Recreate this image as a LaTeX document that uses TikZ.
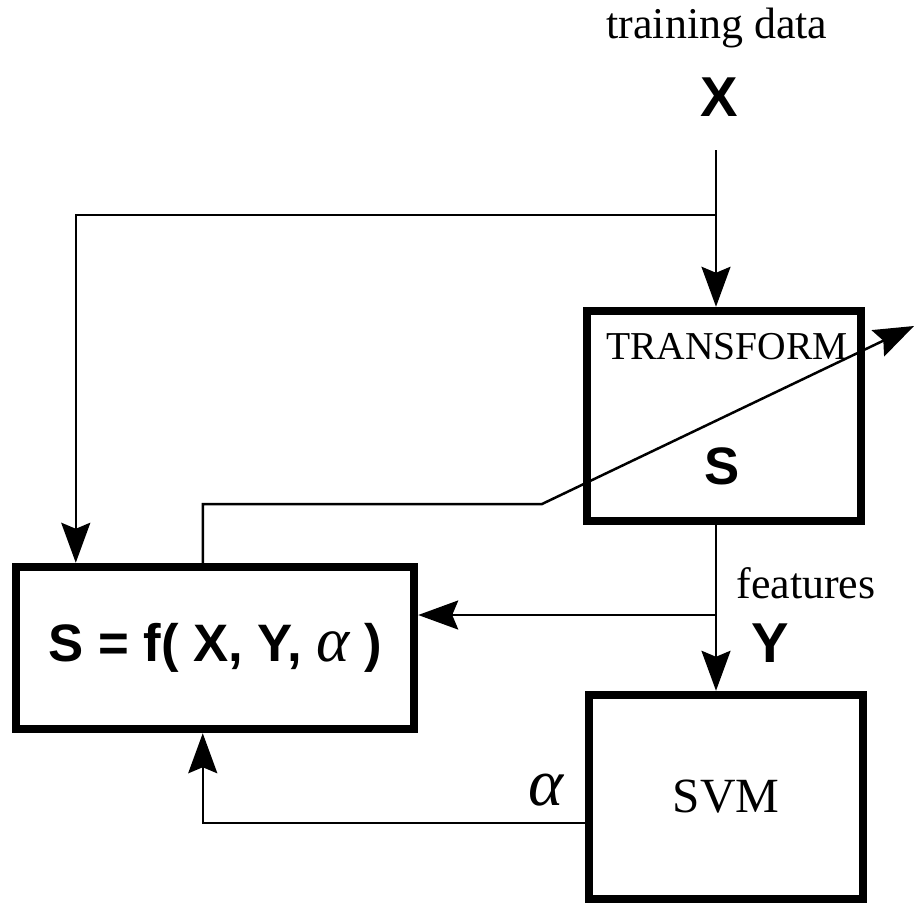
\documentclass[tikz,border=0pt]{standalone}
\usepackage{fontspec}
\setmainfont{Liberation Serif}
\setsansfont{Liberation Sans}
\usetikzlibrary{arrows.meta,positioning,calc}
\tikzset{
  block/.style={rectangle, draw=black, line width=0.17cm, fill=white, inner sep=0pt},
  wire/.style={line width=0.05cm, black},
  arrow/.style={wire, -{Stealth[length=0.8cm, width=0.58cm, inset=0.12cm]}},
  serif/.style={font=\fontsize{25}{30}\selectfont},
  boldsans/.style={font=\fontsize{32}{38}\selectfont\sffamily\bfseries},
}
\begin{document}
\begin{tikzpicture}[x=0.02cm, y=-0.02cm]
\useasboundingbox (0,0) rectangle (915,906);
% boxes
\node[block, minimum width=5.48cm, minimum height=4.2cm] (tr) at (724,416) {};
\node[block, minimum width=7.96cm, minimum height=3.24cm,
      font=\fontsize{30}{36}\selectfont\sffamily\bfseries] (fn) at (215,648)
      {S = f( X, Y, {\fontsize{36}{40}\selectfont\rmfamily\mdseries\itshape α} )};
\node[block, minimum width=5.48cm, minimum height=4.08cm,
      font=\fontsize{28}{34}\selectfont] (svm) at (726,797) {SVM};
% labels
\node[serif] (train) at (717,28) {training data};
\node[boldsans] (xin) at (719,97) {X};
\node[font=\fontsize{22.5}{27}\selectfont] (trname) at (727,347) {TRANSFORM};
\node[font=\fontsize{30}{36}\selectfont\sffamily\bfseries] (trs) at (722,466) {S};
\node[serif, anchor=base] (feat) at (806,598) {features};
\node[boldsans] (yout) at (770,643) {Y};
\node[font=\fontsize{38}{44}\selectfont\itshape] (alab) at (546,790) {α};
% connector points
\coordinate (xsrc) at (716,150);
\coordinate (xsplit) at (716,215);
\coordinate (fsplit) at (716,615);
\coordinate (sbend) at (542,504);
\coordinate (stip) at (914,326);
% connectors
\draw[arrow] (xsrc) -- (xsrc |- tr.north);
\draw[arrow] (xsplit) -| ([xshift=1.28cm]fn.north west);
\draw[arrow] (tr.south -| xsrc) -- (svm.north -| xsrc);
\draw[arrow] (fsplit) -- (fsplit -| fn.east);
\draw[arrow] ([xshift=3.82cm]fn.north west) |- (sbend) -- (stip);
\draw[arrow] ([yshift=-0.52cm]svm.west) -| ([xshift=3.82cm]fn.south west);
\end{tikzpicture}
\end{document}
